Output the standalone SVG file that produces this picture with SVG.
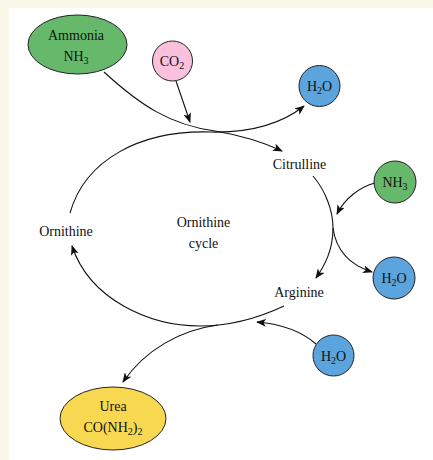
<svg xmlns="http://www.w3.org/2000/svg" width="433" height="460" viewBox="0 0 433 460">
<defs>
<marker id="arr" viewBox="0 0 10 8" refX="9" refY="4" markerWidth="10" markerHeight="8" markerUnits="userSpaceOnUse" orient="auto">
<path d="M0,0 L10,4 L0,8 L2.5,4 z" fill="#111"/>
</marker>
<style>
.n{stroke:#222;stroke-width:1}
.t{font-family:"Liberation Serif","Times New Roman",serif;font-size:14px;fill:#111;text-anchor:middle}
.s{font-size:10px}
.c{fill:none;stroke:#111;stroke-width:1.1}
.a{marker-end:url(#arr)}
</style>
</defs>
<rect x="0" y="0" width="433" height="460" fill="#faf8e8"/>
<rect x="9" y="8" width="424" height="452" fill="#ffffff"/>
<g id="connectors">
<path class="c a" d="M104,72 C140,105 170,125 215,131 C245,136 265,143 282,151"/>
<path class="c a" d="M70,213 C85,160 140,130 210,132 C250,133 280,125 304,106"/>
<path class="c a" d="M176,81 L190,122"/>
<path class="c a" d="M313,176 C325,190 333,210 333,228 C333,250 325,265 316,278"/>
<path class="c a" d="M333,228 C336,250 350,265 372,272"/>
<path class="c a" d="M375,183 C360,187 345,198 337,214"/>
<path class="c a" d="M284,306 C250,322 220,326 200,326 C150,326 90,300 72,246"/>
<path class="c a" d="M218,325 C180,330 145,350 123,382"/>
<path class="c a" d="M316,344 C300,330 280,324 257,322"/>
</g>
<g id="ammonia">
<ellipse class="n" cx="77.5" cy="44.5" rx="49.5" ry="29.5" fill="#66b96a"/>
<text class="t" x="76" y="40">Ammonia</text>
<text class="t" x="76" y="61">NH<tspan class="s" dy="3">3</tspan></text>
</g>
<g id="co2">
<circle class="n" cx="172.5" cy="61" r="20" fill="#fbc0dc"/>
<text class="t" x="172" y="66">CO<tspan class="s" dy="3">2</tspan></text>
</g>
<g id="h2o-top">
<circle class="n" cx="319.5" cy="86" r="20.5" fill="#5ba4de"/>
<text class="t" x="319.5" y="91">H<tspan class="s" dy="3">2</tspan><tspan dy="-3">O</tspan></text>
</g>
<g id="citrulline">
<text class="t" x="299.5" y="169">Citrulline</text>
</g>
<g id="nh3-right">
<circle class="n" cx="395" cy="182" r="21" fill="#66b96a"/>
<text class="t" x="395" y="187">NH<tspan class="s" dy="3">3</tspan></text>
</g>
<g id="ornithine">
<text class="t" x="66" y="236">Ornithine</text>
</g>
<g id="cycle-label">
<text class="t" x="203.5" y="227">Ornithine</text>
<text class="t" x="203.5" y="248">cycle</text>
</g>
<g id="h2o-right">
<circle class="n" cx="394" cy="278" r="21" fill="#5ba4de"/>
<text class="t" x="394" y="283">H<tspan class="s" dy="3">2</tspan><tspan dy="-3">O</tspan></text>
</g>
<g id="arginine">
<text class="t" x="299" y="297">Arginine</text>
</g>
<g id="h2o-bottom">
<circle class="n" cx="333.5" cy="355.5" r="20.5" fill="#5ba4de"/>
<text class="t" x="333.5" y="360.5">H<tspan class="s" dy="3">2</tspan><tspan dy="-3">O</tspan></text>
</g>
<g id="urea">
<ellipse class="n" cx="113" cy="418.5" rx="53" ry="31.5" fill="#f8d851"/>
<text class="t" x="113" y="411">Urea</text>
<text class="t" x="113" y="432">CO(NH<tspan class="s" dy="3">2</tspan><tspan dy="-3">)</tspan><tspan class="s" dy="3">2</tspan></text>
</g>
</svg>
